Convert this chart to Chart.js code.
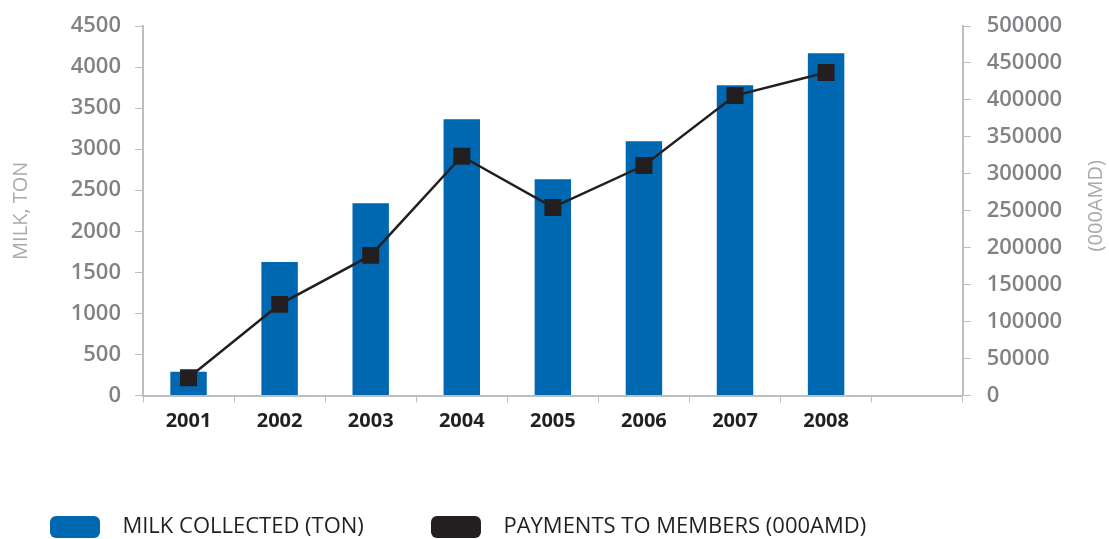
<!DOCTYPE html>
<html>
<head>
<meta charset="utf-8">
<script src="https://cdn.jsdelivr.net/npm/chart.js@4/dist/chart.umd.min.js"></script>
<style>
  html, body { margin: 0; padding: 0; background: #fff; }
  #wrap { width: 1109px; height: 539px; }
</style>
</head>
<body>
<div id="wrap"><canvas id="chart"></canvas></div>
<script>
const years = ['2001', '2002', '2003', '2004', '2005', '2006', '2007', '2008', ''];
const milkTon = [290, 1625, 2342, 3365, 2634, 3097, 3778, 4168];
const payments = [24000, 123300, 189600, 323800, 254500, 311200, 405900, 437000];
const milkTicks = [0, 500, 1000, 1500, 2000, 2500, 3000, 3500, 4000, 4500];
const payTicks = [0, 50000, 100000, 150000, 200000, 250000, 300000, 350000, 400000, 450000, 500000];

Chart.defaults.font.family = "'Open Sans', sans-serif";

const axisColor = '#bcbec0';
const tickColor = '#808285';
const titleColor = '#a7a9ac';

// right axis title reads bottom-to-top in the original
const rightTitle = {
    id: 'rightTitle',
    afterDraw(chart) {
        const ctx = chart.ctx;
        const area = chart.chartArea;
        ctx.save();
        ctx.translate(1096, (area.top + area.bottom) / 2 - 5);
        ctx.rotate(-Math.PI / 2);
        ctx.font = "20px 'Open Sans', sans-serif";
        ctx.fillStyle = titleColor;
        ctx.textAlign = 'center';
        ctx.textBaseline = 'middle';
        ctx.fillText('(000AMD)', 0, 0);
        ctx.restore();
    },
};

// fixed axis sizes so the plot area sits where the original's does
function fitY(width) {
    return scale => {
        scale.width = width;
        scale.paddingTop = 0;
        scale.paddingBottom = 0;
    };
}

let chart = new Chart(document.getElementById('chart'), {
    type: 'bar',
    data: {
        labels: years,
        datasets: [
            {
                type: 'line',
                label: 'PAYMENTS TO MEMBERS (000AMD)',
                data: payments,
                yAxisID: 'y2',
                borderColor: '#231f20',
                backgroundColor: '#231f20',
                borderWidth: 2.5,
                pointStyle: 'rect',
                pointRadius: 12,
                pointHoverRadius: 12,
                pointBorderWidth: 0,
                pointBackgroundColor: '#231f20',
                tension: 0,
            },
            {
                label: 'MILK COLLECTED (TON)',
                data: milkTon,
                yAxisID: 'y',
                backgroundColor: '#0067b1',
                borderWidth: 0,
                categoryPercentage: 1,
                barPercentage: 0.4,
            },
        ],
    },
    options: {
        responsive: true,
        maintainAspectRatio: false,
        animation: false,
        layout: {
            padding: { top: 26, left: 0, right: 0, bottom: -9 },
        },
        scales: {
            x: {
                offset: true,
                grid: {
                    offset: true,
                    drawOnChartArea: false,
                    color: axisColor,
                    tickLength: 7,
                },
                border: { color: axisColor, width: 2 },
                ticks: {
                    color: '#231f20',
                    padding: 7,
                    font: { size: 20, weight: 'bold' },
                },
                afterFit(scale) { scale.height = 70.5; },
            },
            y: {
                position: 'left',
                min: 0,
                max: 4500,
                afterBuildTicks(scale) { scale.ticks = milkTicks.map(v => ({ value: v })); },
                grid: { drawOnChartArea: false, color: axisColor, tickLength: 8 },
                border: { color: axisColor, width: 2 },
                ticks: {
                    color: tickColor,
                    padding: 14,
                    font: { size: 22, weight: '600' },
                    callback: v => String(v),
                },
                title: {
                    display: true,
                    text: 'MILK, TON',
                    color: titleColor,
                    font: { size: 20 },
                    padding: { top: 9, bottom: 0 },
                },
                afterFit: fitY(143),
            },
            y2: {
                position: 'right',
                min: 0,
                max: 500000,
                afterBuildTicks(scale) { scale.ticks = payTicks.map(v => ({ value: v })); },
                grid: { drawOnChartArea: false, color: axisColor, tickLength: 8 },
                border: { color: axisColor, width: 2 },
                ticks: {
                    color: tickColor,
                    padding: 16,
                    font: { size: 22, weight: '600' },
                    callback: v => String(v),
                },
                afterFit: fitY(146.3),
            },
        },
        plugins: {
            legend: {
                position: 'bottom',
                align: 'start',
                labels: {
                    color: '#231f20',
                    boxWidth: 50,
                    boxHeight: 22,
                    useBorderRadius: true,
                    borderRadius: 6,
                    padding: 50,
                    font: { size: 22 },
                    sort: (a, b) => b.datasetIndex - a.datasetIndex,
                    generateLabels(chart) {
                        const items = Chart.defaults.plugins.legend.labels.generateLabels(chart);
                        items.forEach(item => {
                            item.lineWidth = 0;
                            item.text = '  ' + item.text;
                            if (item.datasetIndex === 1) item.text += '   ';
                        });
                        return items;
                    },
                },
            },
            tooltip: { enabled: false },
        },
    },
    plugins: [rightTitle],
});
</script>
</body>
</html>
